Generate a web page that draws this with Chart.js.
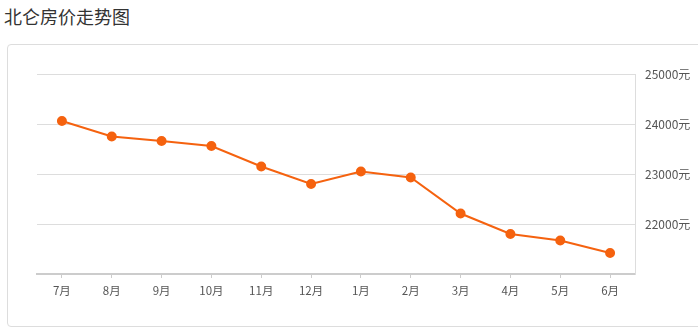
<!DOCTYPE html>
<html>
<head>
<meta charset="utf-8">
<script src="https://cdn.jsdelivr.net/npm/chart.js@4/dist/chart.umd.min.js"></script>
<style>
  html, body { margin: 0; padding: 0; background: #fff; overflow: hidden; }
  body { width: 698px; height: 333px; position: relative; font-family: "Noto Sans CJK SC", sans-serif; }
  .title { position: absolute; left: 4px; top: 4px; font-size: 18px; line-height: 24px; color: #333; }
  .card { position: absolute; left: 7px; top: 44px; width: 720px; height: 281px; border: 1px solid #ddd; border-radius: 4px; }
  #wrap { position: absolute; left: 0; top: 0; width: 698px; height: 333px; }
</style>
</head>
<body>
<div class="title">北仑房价走势图</div>
<div class="card"></div>
<div id="wrap"><canvas id="priceChart"></canvas></div>
<script>
// months and average price (元/㎡)
const months = ['7月', '8月', '9月', '10月', '11月', '12月', '1月', '2月', '3月', '4月', '5月', '6月'];
const prices = [24060, 23750, 23660, 23560, 23150, 22800, 23050, 22930, 22210, 21800, 21670, 21420];
const yTicks = [21000, 22000, 23000, 24000, 25000];

const orange = '#f5620f';

new Chart(document.getElementById('priceChart'), {
  type: 'line',
  data: {
    labels: months,
    datasets: [{
      data: prices,
      borderColor: orange,
      backgroundColor: orange,
      pointBackgroundColor: orange,
      pointBorderColor: orange,
      pointRadius: 4,
      borderWidth: 2,
      tension: 0,
      fill: false
    }]
  },
  options: {
    responsive: true,
    maintainAspectRatio: false,
    animation: false,
    layout: { padding: { left: 37, top: 74, right: 0, bottom: 0 } },
    plugins: { legend: { display: false }, tooltip: { enabled: false } },
    scales: {
      x: {
        offset: true,
        grid: { offset: false, drawOnChartArea: false, drawTicks: true, tickLength: 4, color: '#ccc' },
        border: { color: '#ccc', width: 2 },
        ticks: { color: '#555', padding: 6, font: { family: 'Noto Sans CJK SC', size: 11.5 }, maxRotation: 0 },
        afterFit: s => { s.height = 59; }
      },
      y: {
        position: 'right',
        min: yTicks[0],
        max: yTicks[yTicks.length - 1],
        afterBuildTicks: s => { s.ticks = yTicks.map(v => ({ value: v })); },
        grid: { color: '#ddd', drawTicks: false },
        border: { color: '#ddd', width: 1 },
        ticks: {
          color: '#555',
          padding: 10,
          font: { family: 'Noto Sans CJK SC', size: 12 },
          callback: v => v === yTicks[0] ? '' : v + '元'
        },
        afterFit: s => { s.width = 63; }
      }
    }
  }
});
</script>
</body>
</html>
